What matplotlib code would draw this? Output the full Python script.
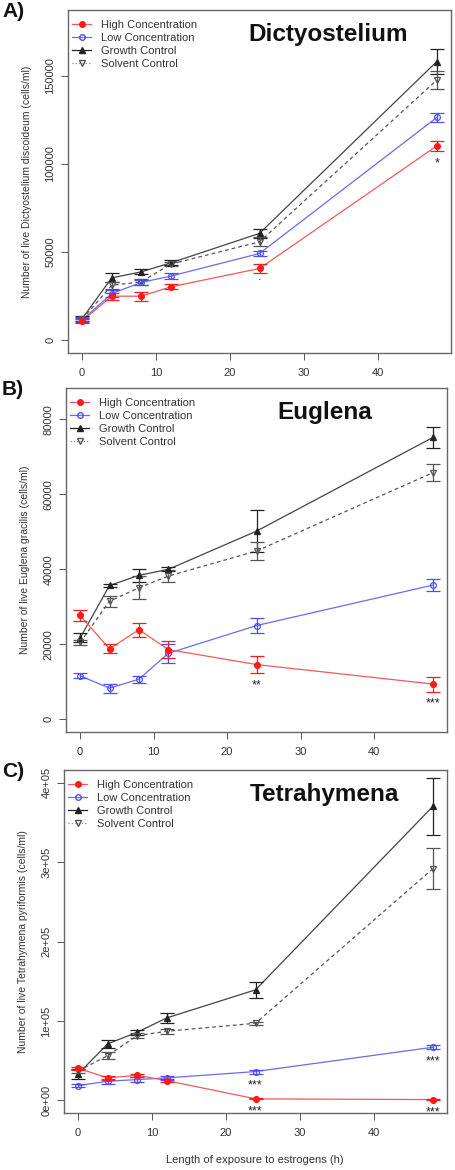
import matplotlib
matplotlib.use("Agg")
import matplotlib.pyplot as plt
from matplotlib.lines import Line2D

plt.rcParams["font.family"] = ["Liberation Sans", "DejaVu Sans"]

# ---- data ----
hours = [0, 4, 8, 12, 24, 48]

# A) Dictyostelium discoideum
dicty_high = [11000, 25000, 25000, 30300, 40700, 110200]
dicty_high_err = [1000, 2000, 2500, 1500, 2500, 3000]
dicty_low = [11500, 26500, 32800, 36400, 49200, 126300]
dicty_low_err = [1000, 2000, 1500, 1500, 1500, 2700]
dicty_growth = [12300, 35400, 38800, 43900, 60600, 158000]
dicty_growth_err = [1500, 2500, 1500, 1500, 2500, 7000]
dicty_solvent = [12000, 31200, 33100, 43200, 55800, 147500]
dicty_solvent_err = [1200, 2000, 1500, 1200, 2500, 5000]
dicty_signif = [(24, "high", "."), (48, "high", "*")]

# B) Euglena gracilis
eug_high = [27700, 18800, 23900, 18600, 14600, 9400]
eug_high_err = [1500, 1200, 1900, 2300, 2300, 2000]
eug_low = [11600, 8300, 10700, 17600, 25000, 35800]
eug_low_err = [700, 1200, 900, 2500, 2000, 1600]
eug_growth = [21700, 35700, 38400, 40000, 50200, 75200]
eug_growth_err = [1200, 500, 1700, 500, 5600, 2700]
eug_solvent = [20500, 31500, 35100, 38200, 44900, 65800]
eug_solvent_err = [600, 1500, 3000, 1500, 2500, 2300]
eug_signif = [(24, "high", "**"), (48, "high", "***")]

# C) Tetrahymena pyriformis
tet_high = [40300, 28200, 31500, 24800, 1800, 900]
tet_high_err = [2000, 2500, 2000, 2000, 500, 500]
tet_low = [18500, 24000, 26100, 28200, 36200, 66800]
tet_low_err = [2000, 3000, 3500, 3000, 2500, 2500]
tet_growth = [33300, 71100, 85700, 103800, 139100, 370100]
tet_growth_err = [6000, 5000, 3000, 6000, 10000, 36000]
tet_solvent = [37000, 56300, 81500, 87000, 97000, 291600]
tet_solvent_err = [3000, 4000, 3000, 3000, 2000, 25600]
tet_signif = [(24, "low", "***"), (24, "high", "***"), (48, "low", "***"), (48, "high", "***")]

series_labels = ["High Concentration", "Low Concentration", "Growth Control", "Solvent Control"]

panels = [
    dict(tag="A)", title="Dictyostelium",
         ylabel="Number of live Dictyostelium discoideum (cells/ml)",
         ylim=(0, 180000), yticks=[0, 50000, 100000, 150000],
         yticklabels=["0", "50000", "100000", "150000"],
         high=(dicty_high, dicty_high_err), low=(dicty_low, dicty_low_err),
         growth=(dicty_growth, dicty_growth_err), solvent=(dicty_solvent, dicty_solvent_err),
         signif=dicty_signif, rect_px=(68, 10, 451, 353)),
    dict(tag="B)", title="Euglena",
         ylabel="Number of live Euglena gracilis (cells/ml)",
         ylim=(0, 85000), yticks=[0, 20000, 40000, 60000, 80000],
         yticklabels=["0", "20000", "40000", "60000", "80000"],
         high=(eug_high, eug_high_err), low=(eug_low, eug_low_err),
         growth=(eug_growth, eug_growth_err), solvent=(eug_solvent, eug_solvent_err),
         signif=eug_signif, rect_px=(66, 388, 447, 732)),
    dict(tag="C)", title="Tetrahymena",
         ylabel="Number of live Tetrahymena pyriformis (cells/ml)",
         ylim=(0, 400000), yticks=[0, 100000, 200000, 300000, 400000],
         yticklabels=["0e+00", "1e+05", "2e+05", "3e+05", "4e+05"],
         high=(tet_high, tet_high_err), low=(tet_low, tet_low_err),
         growth=(tet_growth, tet_growth_err), solvent=(tet_solvent, tet_solvent_err),
         signif=tet_signif, rect_px=(64, 770, 447, 1113)),
]

W, H = 455, 1170
fig = plt.figure(figsize=(W / 100, H / 100), dpi=100)

RED = "#ff1a1a"
BLUE = "#4d4dff"
BLACK = "#222222"
GREY = "#555555"
TEXT = "#333333"

styles = {
    "high": dict(color=RED, lcolor="#f05a5a", marker="o", mfc=RED, ls="-"),
    "low": dict(color=BLUE, lcolor="#6a6af0", marker="o", mfc="none", ls="-"),
    "growth": dict(color=BLACK, lcolor="#444444", marker="^", mfc=BLACK, ls="-"),
    "solvent": dict(color=GREY, lcolor="#555555", marker="v", mfc="none", ls=(0, (3, 2.5))),
}

for p in panels:
    x0, y0, x1, y1 = p["rect_px"]
    ax = fig.add_axes([x0 / W, 1 - y1 / H, (x1 - x0) / W, (y1 - y0) / H])
    for key in ["growth", "solvent", "low", "high"]:
        st = styles[key]
        vals, errs = p[key]
        ax.plot(hours, vals, color=st["lcolor"], ls=st["ls"], lw=0.9, zorder=2)
        ax.errorbar(hours, vals, yerr=errs, fmt="none", ecolor=st["color"],
                    elinewidth=0.9, capsize=5, capthick=0.9, zorder=3)
        ax.plot(hours, vals, ls="none", marker=st["marker"], ms=4.2,
                mfc=st["mfc"], mec=st["color"], mew=0.9, zorder=4)

    for t, key, lab in p["signif"]:
        vals, errs = p[key]
        i = hours.index(t)
        off = -5 if lab == "." else -11
        ax.annotate(lab, (t, vals[i] - errs[i]), xytext=(0, off), textcoords="offset points",
                    ha="center", va="baseline", fontsize=9, color=BLACK)

    lo, hi = p["ylim"]
    pad = 0.04 * (hi - lo)
    ax.set_ylim(lo - pad, hi + pad)
    ax.set_xlim(-1.92, 49.92)
    ax.set_xticks([0, 10, 20, 30, 40])
    ax.set_yticks(p["yticks"])
    ax.set_yticklabels(p["yticklabels"], rotation=90, va="center")
    ax.tick_params(axis="both", length=5, width=0.7, color=GREY, labelsize=8,
                   labelcolor=TEXT, pad=6)
    ax.tick_params(axis="y", pad=4)
    for sp in ax.spines.values():
        sp.set_color("#666666")
        sp.set_linewidth(1.0)
    ax.set_ylabel(p["ylabel"], fontsize=7.5, color=TEXT, labelpad=10)

    handles = [
        Line2D([], [], color=styles["high"]["lcolor"], marker="o", ms=4, mfc=RED, mec=RED, lw=0.9),
        Line2D([], [], color=styles["low"]["lcolor"], marker="o", ms=4, mfc="none", mec=BLUE, lw=0.9),
        Line2D([], [], color=BLACK, marker="^", ms=4, mfc=BLACK, mec=BLACK, lw=0.9),
        Line2D([], [], color="#888888", marker="v", ms=4, mfc="none", mec=GREY, lw=0.9, ls=":"),
    ]
    ax.legend(handles, series_labels, loc="upper left", bbox_to_anchor=(-0.015, 1.0),
              frameon=False, fontsize=8,
              handlelength=1.7, handletextpad=0.9, labelspacing=0.28,
              borderpad=0.8, borderaxespad=0.1, labelcolor=TEXT)

    ax.text(0.68, 0.93, p["title"], transform=ax.transAxes, ha="center", va="center",
            fontsize=17.5, fontweight="bold", color="#111111")

    fig.text(2 / W, 1 - (y0 - 8) / H, p["tag"], ha="left", va="top",
             fontsize=15, fontweight="bold", color="#111111")

fig.text(255 / W, 1 - 1160 / H, "Length of exposure to estrogens (h)", ha="center",
         va="center", fontsize=8, color=TEXT)

fig.savefig("out.png", dpi=100)
